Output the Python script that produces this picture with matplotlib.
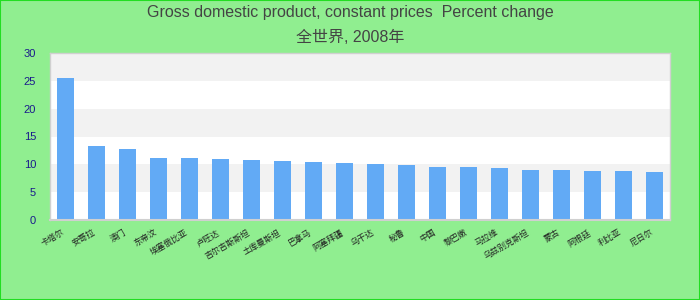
import matplotlib
matplotlib.use("Agg")
import matplotlib.pyplot as plt

plt.rcParams['font.family'] = ['Liberation Sans', 'Noto Sans CJK SC', 'DejaVu Sans']

categories = ["卡塔尔", "安哥拉", "澳门", "东帝汶", "埃塞俄比亚", "卢旺达", "吉尔吉斯斯坦",
              "土库曼斯坦", "巴拿马", "阿塞拜疆", "乌干达", "秘鲁", "中国", "黎巴嫩",
              "马拉维", "乌兹别克斯坦", "蒙古", "阿根廷", "利比亚", "尼日尔"]
values = [25.5, 13.3, 12.8, 11.1, 11.1, 11.0, 10.8, 10.6, 10.5, 10.3,
          10.1, 9.9, 9.6, 9.6, 9.3, 9.0, 9.0, 8.8, 8.8, 8.6]
yticks = [0, 5, 10, 15, 20, 25, 30]
title1 = "Gross domestic product, constant prices  Percent change"
title2 = "全世界, 2008年"

fig = plt.figure(figsize=(7, 3), dpi=100, facecolor='#90ee90')
fig.patches.append(plt.Rectangle((0, 0), 1, 1, transform=fig.transFigure,
                                 fill=False, edgecolor='#22dd22', linewidth=1.5))
ax = fig.add_axes([50/700, 80/300, 620/700, 167/300])
ax.set_facecolor('white')
for lo in (5, 15, 25):
    ax.axhspan(lo, lo + 5, color='#f2f2f2', zorder=0, linewidth=0)

x = list(range(len(categories)))
ax.bar(x, values, width=0.55, color='#62aaf5', zorder=2)
ax.set_xlim(-0.5, len(categories) - 0.5)
ax.set_ylim(0, 30)
ax.set_yticks(yticks)
ax.set_yticklabels([str(t) for t in yticks], color='#1a1a8c', fontsize=8)
ax.set_xticks(x)
ax.set_xticklabels(categories, rotation=30, ha='right', fontsize=6, color='#222222')
ax.tick_params(axis='both', length=0)
ax.tick_params(axis='y', pad=10)
ax.tick_params(axis='x', pad=6)
for s in ax.spines.values():
    s.set_color('#d0d0d0')
    s.set_linewidth(1)
ax.spines['bottom'].set_linewidth(1.5)

fig.text(0.5, 1 - 13/300, title1, ha='center', va='center', fontsize=11.5, color='#444444')
fig.text(0.5, 1 - 37/300, title2, ha='center', va='center', fontsize=11.5, color='#444444')

fig.savefig('out.png', dpi=100, facecolor=fig.get_facecolor())
